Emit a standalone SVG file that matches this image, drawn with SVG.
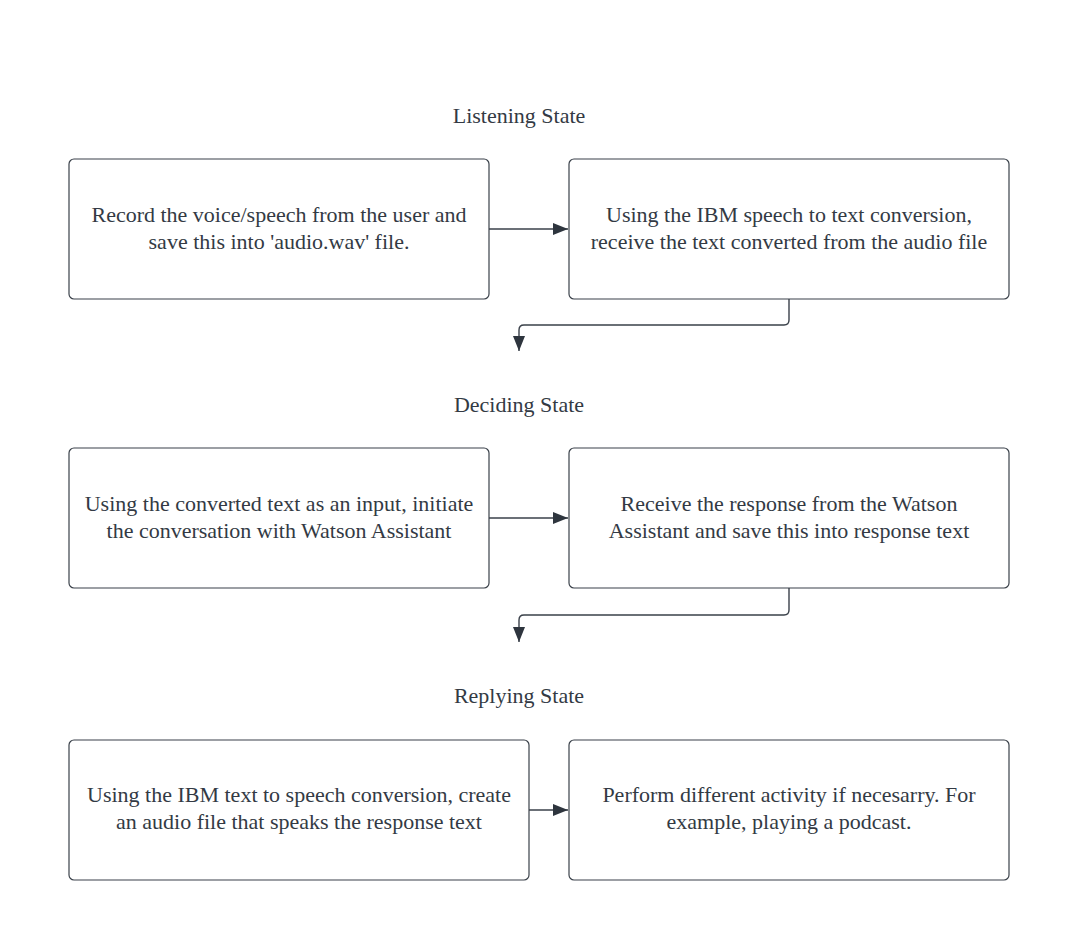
<svg xmlns="http://www.w3.org/2000/svg" width="1078" height="942" viewBox="0 0 1078 942">
<style>
.box{fill:#ffffff;stroke:#3a414a;stroke-width:1.2}
.t{font-family:"Liberation Serif","Times New Roman",serif;font-size:22px;fill:#333a44;text-anchor:middle}
.c{fill:none;stroke:#3a414a;stroke-width:1.4}
</style>
<defs>
<marker id="ah" viewBox="0 0 15 12" refX="15" refY="6" markerWidth="15" markerHeight="12" markerUnits="userSpaceOnUse" orient="auto">
<path d="M0,0 L15,6 L0,12 Z" fill="#2e353e"/>
</marker>
</defs>
<rect width="1078" height="942" fill="#ffffff"/>
<g id="title-listening"><text class="t" x="519" y="123">Listening State</text></g>
<g id="title-deciding"><text class="t" x="519" y="412">Deciding State</text></g>
<g id="title-replying"><text class="t" x="519" y="703">Replying State</text></g>
<g id="n1"><rect class="box" x="69" y="159" width="420" height="140" rx="5"/>
<text class="t" x="279" y="222">Record the voice/speech from the user and</text>
<text class="t" x="279" y="249">save this into 'audio.wav' file.</text></g>
<g id="n2"><rect class="box" x="569" y="159" width="440" height="140" rx="5"/>
<text class="t" x="789" y="222">Using the IBM speech to text conversion,</text>
<text class="t" x="789" y="249">receive the text converted from the audio file</text></g>
<g id="n3"><rect class="box" x="69" y="448" width="420" height="140" rx="5"/>
<text class="t" x="279" y="511">Using the converted text as an input, initiate</text>
<text class="t" x="279" y="538">the conversation with Watson Assistant</text></g>
<g id="n4"><rect class="box" x="569" y="448" width="440" height="140" rx="5"/>
<text class="t" x="789" y="511">Receive the response from the Watson</text>
<text class="t" x="789" y="538">Assistant and save this into response text</text></g>
<g id="n5"><rect class="box" x="69" y="740" width="460" height="140" rx="5"/>
<text class="t" x="299" y="802">Using the IBM text to speech conversion, create</text>
<text class="t" x="299" y="829">an audio file that speaks the response text</text></g>
<g id="n6"><rect class="box" x="569" y="740" width="440" height="140" rx="5"/>
<text class="t" x="789" y="802">Perform different activity if necesarry. For</text>
<text class="t" x="789" y="829">example, playing a podcast.</text></g>
<g id="connectors">
<path class="c" d="M489,229 H568" marker-end="url(#ah)"/>
<path class="c" d="M789,299 V320 Q789,325 784,325 H524 Q519,325 519,330 V351" marker-end="url(#ah)"/>
<path class="c" d="M489,518 H568" marker-end="url(#ah)"/>
<path class="c" d="M789,588 V610 Q789,615 784,615 H524 Q519,615 519,620 V642" marker-end="url(#ah)"/>
<path class="c" d="M529,810 H568" marker-end="url(#ah)"/>
</g>
</svg>
